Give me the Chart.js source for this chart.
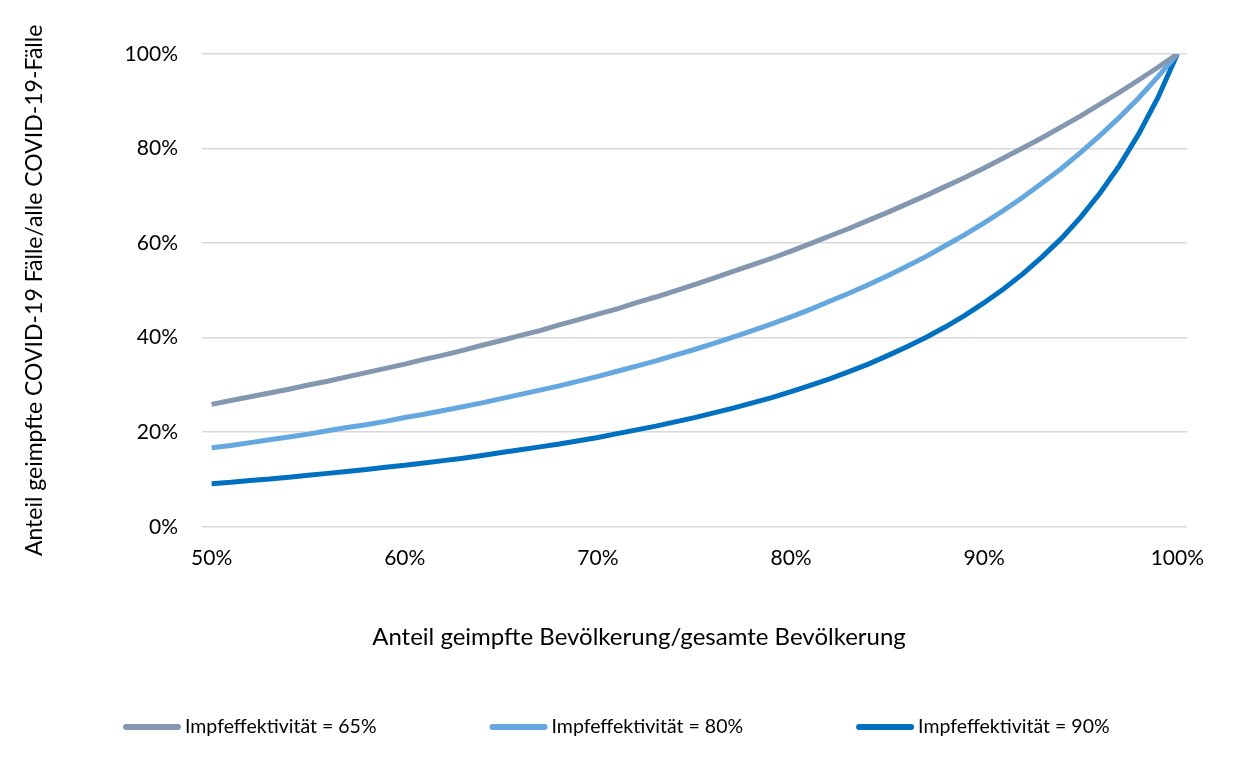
<!DOCTYPE html>
<html>
<head>
<meta charset="utf-8">
<script src="https://cdn.jsdelivr.net/npm/chart.js@4.4.1/dist/chart.umd.min.js"></script>
<style>
  html, body { margin: 0; padding: 0; background: #fff; }
  #wrap { width: 1258px; height: 770px; position: relative; }
</style>
</head>
<body>
<div id="wrap"><canvas id="chart"></canvas></div>
<script>
// x: Anteil geimpfte Bevölkerung (%), 50..100 in 1er-Schritten
const vaccinated = [50,51,52,53,54,55,56,57,58,59,60,61,62,63,64,65,66,67,68,69,70,71,72,73,74,75,76,77,78,79,80,81,82,83,84,85,86,87,88,89,90,91,92,93,94,95,96,97,98,99,100];

const eff65 = [25.9,26.7,27.5,28.3,29.1,30.0,30.8,31.7,32.6,33.5,34.4,35.4,36.3,37.3,38.4,39.4,40.5,41.5,42.7,43.8,45.0,46.1,47.4,48.6,49.9,51.2,52.6,54.0,55.4,56.8,58.3,59.9,61.5,63.1,64.8,66.5,68.3,70.1,72.0,73.9,75.9,78.0,80.1,82.3,84.6,86.9,89.4,91.9,94.5,97.2,100];
const eff80 = [16.7,17.2,17.8,18.4,19.0,19.6,20.3,21.0,21.6,22.3,23.1,23.8,24.6,25.4,26.2,27.1,28.0,28.9,29.8,30.8,31.8,32.9,34.0,35.1,36.3,37.5,38.8,40.1,41.5,42.9,44.4,46.0,47.7,49.4,51.2,53.1,55.1,57.2,59.5,61.8,64.3,66.9,69.7,72.7,75.8,79.2,82.8,86.6,90.7,95.2,100];
const eff90 = [9.1,9.4,9.8,10.1,10.5,10.9,11.3,11.7,12.1,12.6,13.0,13.5,14.0,14.5,15.1,15.7,16.3,16.9,17.5,18.2,18.9,19.7,20.5,21.3,22.2,23.1,24.1,25.1,26.2,27.3,28.6,29.9,31.3,32.8,34.4,36.2,38.1,40.1,42.3,44.7,47.4,50.3,53.5,57.1,61.0,65.5,70.6,76.4,83.1,90.8,100];

const seriesNames = ['Impfeffektivität = 65%', 'Impfeffektivität = 80%', 'Impfeffektivität = 90%'];
const seriesColors = ['#8497b0', '#65a7df', '#0070c0'];
const xTicks = [50, 60, 70, 80, 90, 100];
const yTicks = [0, 20, 40, 60, 80, 100];
const xTitle = 'Anteil geimpfte Bevölkerung/gesamte Bevölkerung';
const yTitle = 'Anteil geimpfte COVID-19 Fälle/alle COVID-19-Fälle';

const FONT = 'Lato, Calibri, "Open Sans", sans-serif';

function toPoints(ys) {
  return vaccinated.map((x, i) => ({ x, y: ys[i] }));
}

const datasets = [eff65, eff80, eff90].map((ys, i) => ({
  label: seriesNames[i],
  data: toPoints(ys),
  borderColor: seriesColors[i],
  backgroundColor: seriesColors[i],
  borderWidth: 5,
  pointRadius: 0,
  tension: 0,
  fill: false
}));

// x-axis title (centred on the page, like Excel) and the legend row below it
const bottomText = {
  id: 'bottomText',
  afterDraw(chart) {
    const ctx = chart.ctx;
    ctx.save();
    ctx.fillStyle = '#000';
    ctx.textBaseline = 'middle';
    ctx.textAlign = 'center';
    ctx.font = '24px ' + FONT;
    ctx.fillText(xTitle, 639, 637);

    const y = 727;
    const lineLen = 58;
    const gap = 113;
    let x = 123;
    ctx.textAlign = 'left';
    ctx.font = '19.5px ' + FONT;
    ctx.lineCap = 'round';
    chart.data.datasets.forEach(ds => {
      ctx.strokeStyle = ds.borderColor;
      ctx.lineWidth = 6;
      ctx.beginPath();
      ctx.moveTo(x + 3, y);
      ctx.lineTo(x + lineLen - 3, y);
      ctx.stroke();
      const tx = x + lineLen + 4;
      ctx.fillText(ds.label, tx, y);
      x = tx + ctx.measureText(ds.label).width + gap;
    });
    ctx.restore();
  }
};

new Chart(document.getElementById('chart'), {
  type: 'line',
  data: { datasets },
  plugins: [bottomText],
  options: {
    responsive: true,
    maintainAspectRatio: false,
    animation: false,
    layout: { padding: { left: 10, right: 71, top: 54, bottom: 188 } },
    plugins: {
      tooltip: { enabled: false },
      legend: { display: false }
    },
    scales: {
      x: {
        type: 'linear',
        min: 49.5,
        max: 100.5,
        afterBuildTicks: (axis) => { axis.ticks = xTicks.map(v => ({ value: v })); },
        grid: { display: false },
        border: { display: false },
        ticks: {
          font: { family: FONT, size: 21 },
          color: '#000',
          padding: 11,
          maxRotation: 0,
          callback: (v) => v + '%'
        }
      },
      y: {
        min: 0,
        max: 100,
        afterBuildTicks: (axis) => { axis.ticks = yTicks.map(v => ({ value: v })); },
        grid: { color: '#d9d9d9', lineWidth: 1.5, drawTicks: false },
        border: { display: false },
        ticks: {
          font: { family: FONT, size: 21 },
          color: '#000',
          padding: 24,
          callback: (v) => v + '%'
        },
        title: {
          display: true,
          text: yTitle,
          font: { family: FONT, size: 23 },
          color: '#000',
          padding: { top: 11, bottom: 52 }
        }
      }
    }
  }
});
</script>
</body>
</html>
